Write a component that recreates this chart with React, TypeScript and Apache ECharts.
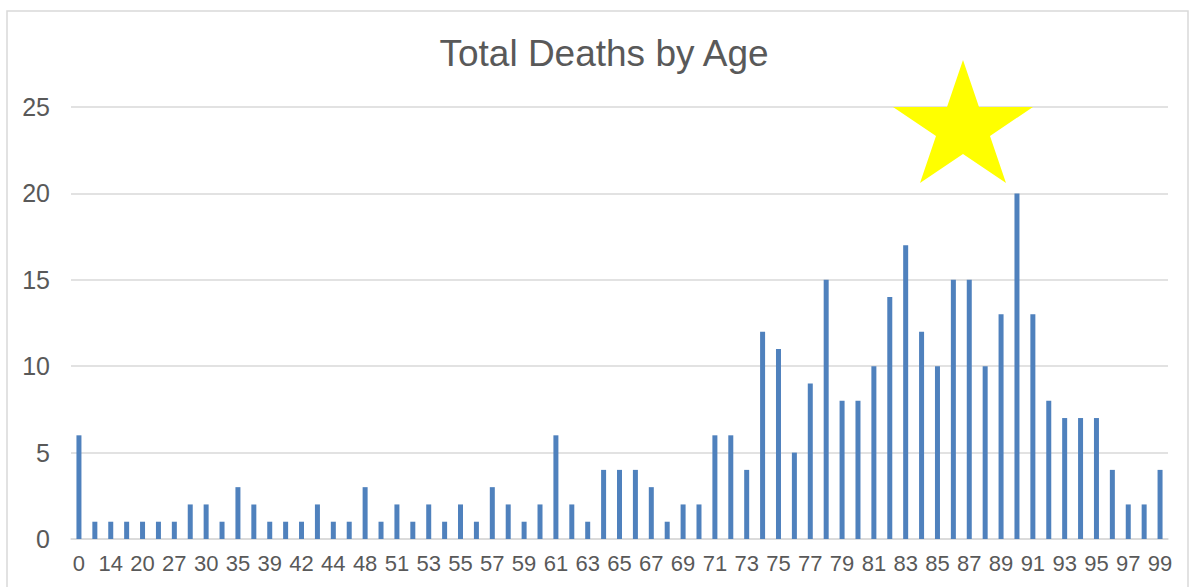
import React, { useEffect, useRef } from "react";
import * as echarts from "echarts";

const TITLE = "Total Deaths by Age";

const ages: string[] = [
  "0", "8", "14", "17", "20", "22", "27", "29", "30", "33",
  "35", "36", "39", "40", "42", "43", "44", "46", "48", "49",
  "51", "52", "53", "54", "55", "56", "57", "58", "59", "60",
  "61", "62", "63", "64", "65", "66", "67", "68", "69", "70",
  "71", "72", "73", "74", "75", "76", "77", "78", "79", "80",
  "81", "82", "83", "84", "85", "86", "87", "88", "89", "90",
  "91", "92", "93", "94", "95", "96", "97", "98", "99",
];

const deaths: number[] = [
  6, 1, 1, 1, 1, 1, 1, 2, 2, 1,
  3, 2, 1, 1, 1, 2, 1, 1, 3, 1,
  2, 1, 2, 1, 2, 1, 3, 2, 1, 2,
  6, 2, 1, 4, 4, 4, 3, 1, 2, 2,
  6, 6, 4, 12, 11, 5, 9, 15, 8, 8,
  10, 14, 17, 12, 10, 15, 15, 10, 13, 20,
  13, 8, 7, 7, 7, 4, 2, 2, 4,
];

const yTicks = { min: 0, max: 25, interval: 5 };

const FONT = "'Liberation Sans', Arial, sans-serif";
const TEXT = "#595959";
const GRID = "#D9D9D9";
const BAR = "#4F81BD";

export default function App() {
  const ref = useRef<HTMLDivElement>(null);

  useEffect(() => {
    if (!ref.current) return;
    const chart = echarts.init(ref.current, undefined, { renderer: "svg" });
    chart.setOption({
      animation: false,
      backgroundColor: "#ffffff",
      textStyle: { fontFamily: FONT },
      grid: { left: 71, right: 28, top: 107, bottom: 48, containLabel: false },
      xAxis: {
        type: "category",
        data: ages,
        axisLine: { show: true, lineStyle: { color: GRID, width: 1.5 } },
        axisTick: { show: false },
        axisLabel: {
          interval: 1,
          color: TEXT,
          fontSize: 22,
          fontFamily: FONT,
          margin: 13,
        },
      },
      yAxis: {
        type: "value",
        min: yTicks.min,
        max: yTicks.max,
        interval: yTicks.interval,
        axisLine: { show: false },
        axisTick: { show: false },
        splitLine: { lineStyle: { color: GRID, width: 1.5 } },
        axisLabel: {
          color: TEXT,
          fontSize: 25,
          fontFamily: FONT,
          margin: 21,
        },
      },
      series: [
        {
          type: "bar",
          data: deaths,
          barWidth: 5,
          itemStyle: { color: BAR },
        },
      ],
      graphic: [
        {
          type: "rect",
          shape: { x: 7, y: 11, width: 1181, height: 620 },
          style: { fill: "none", stroke: GRID, lineWidth: 1.5 },
          silent: true,
          z: -1,
        },
        {
          type: "text",
          x: 604,
          y: 53,
          style: {
            text: TITLE,
            fill: TEXT,
            font: `37px ${FONT}`,
            textAlign: "center",
            textVerticalAlign: "middle",
          },
        },
        {
          type: "polygon",
          shape: {
            points: [
              [963, 60],
              [979, 107],
              [1033, 107],
              [990, 136],
              [1006, 183],
              [963, 154],
              [920, 183],
              [936, 136],
              [893, 107],
              [947, 107],
            ],
          },
          style: { fill: "#FFFF00" },
          z: 10,
        },
      ],
    });
    return () => chart.dispose();
  }, []);

  return (
    <div
      ref={ref}
      style={{ position: "absolute", left: 0, top: 0, width: 1196, height: 587 }}
    />
  );
}
